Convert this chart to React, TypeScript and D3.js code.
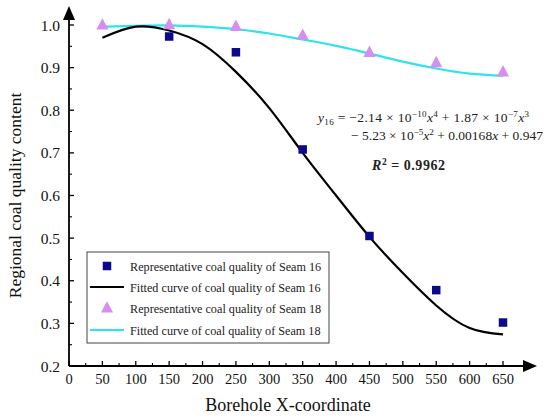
import React from "react";
import * as d3 from "d3";

const W = 550;
const H = 419;

const seam16X = [150, 250, 350, 450, 550, 650];
const seam16Y = [0.973, 0.936, 0.708, 0.505, 0.378, 0.302];

const seam18X = [50, 150, 250, 350, 450, 550, 650];
const seam18Y = [1.0, 1.001, 0.997, 0.976, 0.936, 0.912, 0.89];

const fit16X = [50, 100, 150, 200, 250, 300, 350, 400, 450, 500, 550, 600, 650];
const fit16Y = [0.97, 0.996, 0.987, 0.955, 0.89, 0.805, 0.7, 0.6, 0.503, 0.418, 0.342, 0.289, 0.274];

const fit18X = [50, 100, 150, 200, 250, 300, 350, 400, 450, 500, 550, 600, 650];
const fit18Y = [0.996, 0.998, 0.999, 0.996, 0.99, 0.98, 0.966, 0.951, 0.933, 0.914, 0.898, 0.886, 0.881];

const xTicks = d3.range(0, 651, 50);
const xMinor = d3.range(25, 651, 50);
const yTicks = [0.2, 0.3, 0.4, 0.5, 0.6, 0.7, 0.8, 0.9, 1.0];
const yMinor = [0.25, 0.35, 0.45, 0.55, 0.65, 0.75, 0.85, 0.95];

const legendLabels = [
  "Representative coal quality of Seam 16",
  "Fitted curve of coal quality of Seam 16",
  "Representative coal quality of Seam 18",
  "Fitted curve of coal quality of Seam 18",
];

const xTitle = "Borehole X-coordinate";
const yTitle = "Regional coal quality content";

const NAVY = "#0a0a8a";
const VIOLET = "#d68ef0";
const CYAN = "#2fe3ea";
const FONT = "'Liberation Serif', 'Times New Roman', serif";

export default function App() {
  const x = d3.scaleLinear().domain([0, 650]).range([69, 503]);
  const y = d3.scaleLinear().domain([0.2, 1.0]).range([366, 25]);

  const line = d3
    .line<[number, number]>()
    .x((d) => x(d[0]))
    .y((d) => y(d[1]))
    .curve(d3.curveNatural);

  const p16 = line(fit16X.map((v, i) => [v, fit16Y[i]]) as [number, number][]) || "";
  const p18 = line(fit18X.map((v, i) => [v, fit18Y[i]]) as [number, number][]) || "";

  const axisY = y(0.2);
  const axisX = x(0);
  const sq = 8.5;
  const tri = (cx: number, cy: number, s: number) =>
    `M${cx},${cy - s * 0.62}L${cx + s * 0.55},${cy + s * 0.42}L${cx - s * 0.55},${cy + s * 0.42}Z`;

  const legX = 87;
  const legY = 252;
  const legW = 242;
  const legH = 91;
  const rowY = [266, 287, 308, 330];
  const sup = 9;

  return (
    <svg
      width={W}
      height={H}
      style={{ position: "absolute", left: 0, top: 0, background: "#fff" }}
      fontFamily={FONT}
    >
      <rect x={0} y={0} width={W} height={H} fill="#fff" />

      {/* fitted curves */}
      <path d={p18} fill="none" stroke={CYAN} strokeWidth={2.2} />
      <path d={p16} fill="none" stroke="#000" strokeWidth={2.2} />

      {/* points */}
      {seam18X.map((v, i) => (
        <path key={"t" + i} d={tri(x(v), y(seam18Y[i]), 11)} fill={VIOLET} />
      ))}
      {seam16X.map((v, i) => (
        <rect
          key={"s" + i}
          x={x(v) - sq / 2}
          y={y(seam16Y[i]) - sq / 2}
          width={sq}
          height={sq}
          fill={NAVY}
        />
      ))}

      {/* axes */}
      <line x1={axisX} y1={axisY} x2={526} y2={axisY} stroke="#000" strokeWidth={1.8} />
      <path d={`M537,${axisY}L523,${axisY - 6}L523,${axisY + 6}Z`} fill="#000" />
      <line x1={axisX} y1={axisY} x2={axisX} y2={16} stroke="#000" strokeWidth={1.8} />
      <path d={`M${axisX},6L${axisX - 6},20L${axisX + 6},20Z`} fill="#000" />

      {xTicks.map((t) => (
        <g key={"xt" + t}>
          <line x1={x(t)} x2={x(t)} y1={axisY} y2={axisY - 5} stroke="#000" strokeWidth={1.3} />
          <text x={x(t)} y={axisY + 18} textAnchor="middle" fontSize={14.5} fill="#111">
            {t}
          </text>
        </g>
      ))}
      {xMinor.map((t) => (
        <line key={"xm" + t} x1={x(t)} x2={x(t)} y1={axisY} y2={axisY - 3} stroke="#000" strokeWidth={1.1} />
      ))}
      {yTicks.map((t) => (
        <g key={"yt" + t}>
          <line x1={axisX} x2={axisX + 5} y1={y(t)} y2={y(t)} stroke="#000" strokeWidth={1.3} />
          <text x={axisX - 9} y={y(t) + 5.5} textAnchor="end" fontSize={15.5} fill="#111">
            {t.toFixed(1)}
          </text>
        </g>
      ))}
      {yMinor.map((t) => (
        <line key={"ym" + t} x1={axisX} x2={axisX + 3} y1={y(t)} y2={y(t)} stroke="#000" strokeWidth={1.1} />
      ))}

      {/* titles */}
      <text x={288} y={411} textAnchor="middle" fontSize={18} fill="#111">
        {xTitle}
      </text>
      <text
        transform={`translate(21,${(25 + 366) / 2}) rotate(-90)`}
        textAnchor="middle"
        fontSize={17.5}
        fill="#111"
      >
        {yTitle}
      </text>

      {/* legend */}
      <rect x={legX} y={legY} width={legW} height={legH} fill="#fff" stroke="#444" strokeWidth={1} />
      <rect x={107 - sq / 2} y={rowY[0] - sq / 2} width={sq} height={sq} fill={NAVY} />
      <line x1={90} x2={124} y1={rowY[1]} y2={rowY[1]} stroke="#000" strokeWidth={2.2} />
      <path d={tri(107, rowY[2], 11)} fill={VIOLET} />
      <line x1={90} x2={124} y1={rowY[3]} y2={rowY[3]} stroke={CYAN} strokeWidth={2.2} />
      {legendLabels.map((l, i) => (
        <text key={l} x={130} y={rowY[i] + 4.5} fontSize={12.2} fill="#222">
          {l}
        </text>
      ))}

      {/* equation */}
      <text x={318} y={122} fontSize={13.5} fill="#222" textLength={211} lengthAdjust="spacing">
        <tspan fontStyle="italic">y</tspan>
        <tspan fontSize={sup} dy={3}>16</tspan>
        <tspan dy={-3}> = −2.14 × 10</tspan>
        <tspan fontSize={sup} dy={-5}>−10</tspan>
        <tspan dy={5} fontStyle="italic">x</tspan>
        <tspan fontSize={sup} dy={-5}>4</tspan>
        <tspan dy={5}> + 1.87 × 10</tspan>
        <tspan fontSize={sup} dy={-5}>−7</tspan>
        <tspan dy={5} fontStyle="italic">x</tspan>
        <tspan fontSize={sup} dy={-5}>3</tspan>
      </text>
      <text x={351} y={140} fontSize={13.5} fill="#222" textLength={192} lengthAdjust="spacing">
        <tspan>− 5.23 × 10</tspan>
        <tspan fontSize={sup} dy={-5}>−5</tspan>
        <tspan dy={5} fontStyle="italic">x</tspan>
        <tspan fontSize={sup} dy={-5}>2</tspan>
        <tspan dy={5}> + 0.00168</tspan>
        <tspan fontStyle="italic">x</tspan>
        <tspan> + 0.947</tspan>
      </text>
      <text x={372} y={170} fontSize={14} fontWeight="bold" fill="#222" textLength={73} lengthAdjust="spacing">
        <tspan fontStyle="italic">R</tspan>
        <tspan fontSize={9.5} dy={-5}>2</tspan>
        <tspan dy={5}> = 0.9962</tspan>
      </text>
    </svg>
  );
}
